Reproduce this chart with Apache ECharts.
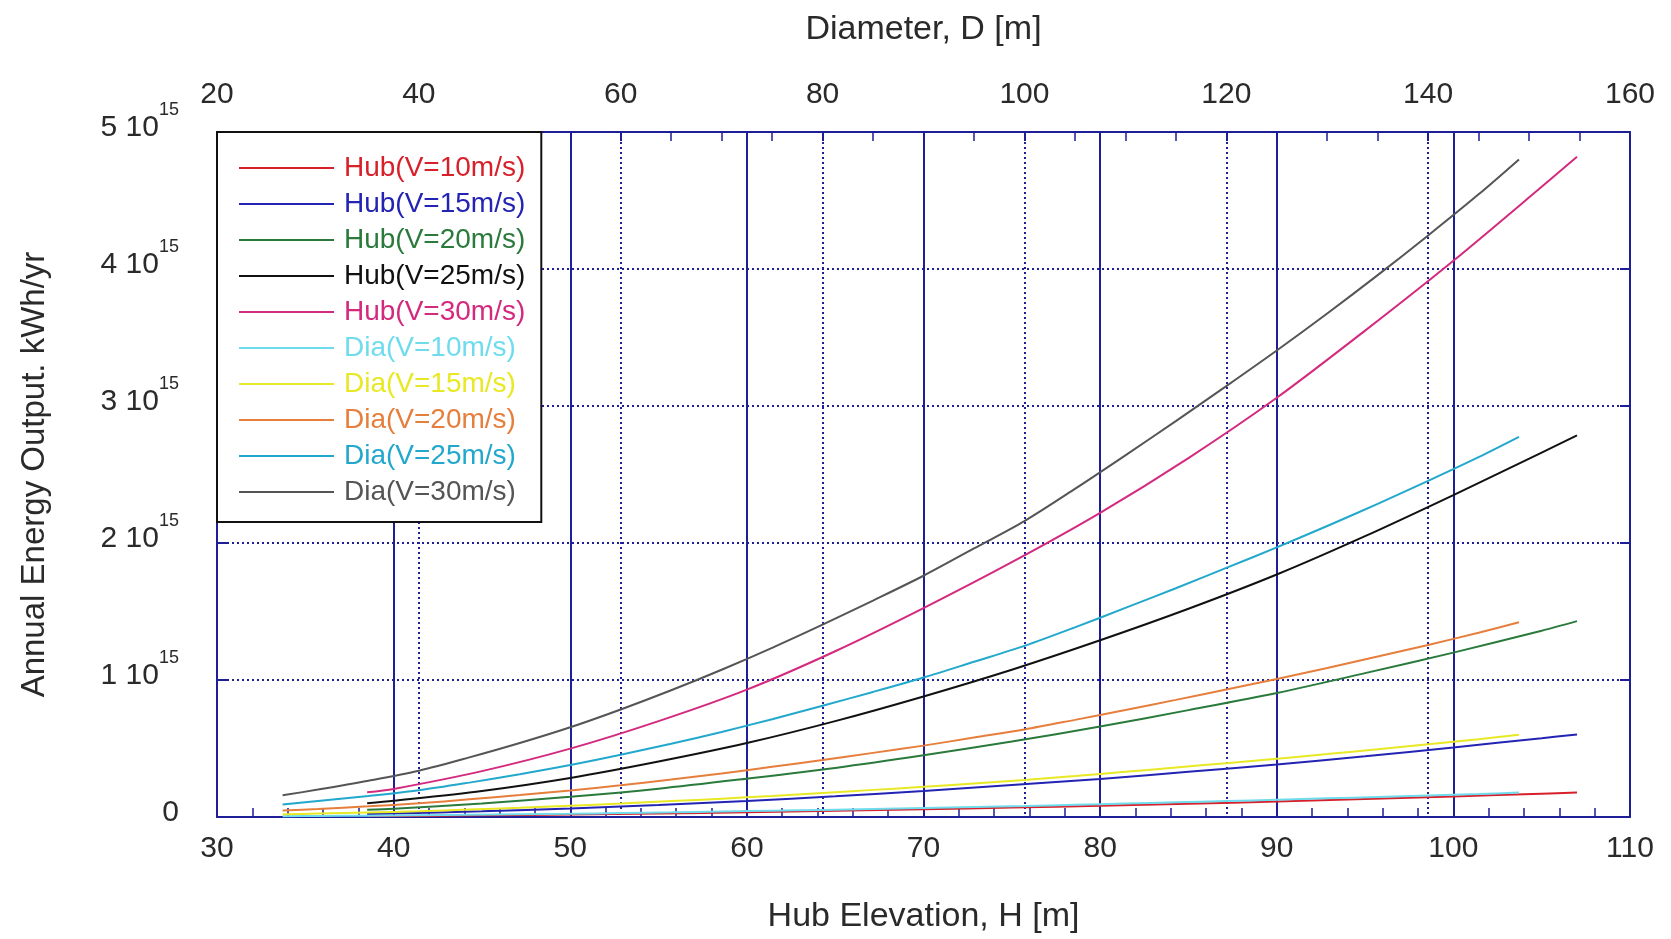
<!DOCTYPE html>
<html>
<head>
<meta charset="utf-8">
<title>Annual Energy Output</title>
<script src="https://cdn.jsdelivr.net/npm/echarts@6.0.0/dist/echarts.min.js"></script>
<style>
  html, body { margin: 0; padding: 0; background: #fff; }
  #chart { width: 1671px; height: 939px; }
</style>
</head>
<body>
<div id="chart"></div>
<script>
// hub elevation H [m] (bottom axis) and rotor diameter D [m] (top axis)
const hubH = [38.5, 40, 45, 50, 55, 60, 65, 70, 75, 80, 85, 90, 95, 100, 105, 107];
const diaD = [26.5, 30, 35, 40, 45, 50, 55, 60, 65, 70, 75, 80, 85, 90, 95, 100, 105, 110, 115, 120, 125, 130, 135, 140, 145, 149];

// annual energy output, in 10^15 kWh/yr
const hub10 = [0.007, 0.008, 0.012, 0.018, 0.026, 0.034, 0.045, 0.056, 0.069, 0.082, 0.097, 0.113, 0.131, 0.150, 0.170, 0.178];
const hub15 = [0.022, 0.026, 0.042, 0.062, 0.088, 0.117, 0.151, 0.190, 0.233, 0.278, 0.330, 0.383, 0.443, 0.508, 0.575, 0.603];
const hub20 = [0.053, 0.061, 0.099, 0.148, 0.207, 0.280, 0.358, 0.450, 0.551, 0.660, 0.780, 0.905, 1.050, 1.200, 1.360, 1.430];
const hub25 = [0.100, 0.118, 0.190, 0.285, 0.405, 0.540, 0.700, 0.880, 1.075, 1.290, 1.520, 1.770, 2.050, 2.350, 2.660, 2.785];
const hub30 = [0.180, 0.205, 0.335, 0.499, 0.700, 0.930, 1.210, 1.525, 1.860, 2.220, 2.620, 3.060, 3.550, 4.060, 4.600, 4.820];

const dia10 = [0.006, 0.007, 0.010, 0.0125, 0.016, 0.020, 0.024, 0.029, 0.034, 0.040, 0.046, 0.052, 0.058, 0.065, 0.073, 0.080, 0.089, 0.098, 0.107, 0.116, 0.126, 0.136, 0.146, 0.157, 0.168, 0.178];
const dia15 = [0.020, 0.025, 0.033, 0.042, 0.054, 0.067, 0.082, 0.098, 0.116, 0.134, 0.154, 0.176, 0.198, 0.220, 0.245, 0.270, 0.299, 0.330, 0.361, 0.393, 0.426, 0.459, 0.494, 0.531, 0.568, 0.600];
const dia20 = [0.047, 0.059, 0.078, 0.100, 0.129, 0.160, 0.194, 0.232, 0.274, 0.318, 0.366, 0.416, 0.468, 0.521, 0.580, 0.639, 0.709, 0.781, 0.855, 0.931, 1.008, 1.088, 1.171, 1.256, 1.345, 1.421];
const dia25 = [0.091, 0.116, 0.153, 0.195, 0.251, 0.312, 0.379, 0.454, 0.535, 0.621, 0.714, 0.812, 0.913, 1.018, 1.133, 1.249, 1.384, 1.526, 1.670, 1.818, 1.968, 2.124, 2.286, 2.454, 2.627, 2.775];
const dia30 = [0.158, 0.200, 0.265, 0.338, 0.435, 0.540, 0.655, 0.785, 0.925, 1.075, 1.235, 1.404, 1.580, 1.761, 1.960, 2.160, 2.395, 2.640, 2.890, 3.145, 3.405, 3.675, 3.955, 4.245, 4.545, 4.800];

const seriesList = [
  { name: 'Hub(V=10m/s)', x: hubH, y: hub10, color: '#d8202a', axis: 0 },
  { name: 'Hub(V=15m/s)', x: hubH, y: hub15, color: '#2323b4', axis: 0 },
  { name: 'Hub(V=20m/s)', x: hubH, y: hub20, color: '#2a7a3c', axis: 0 },
  { name: 'Hub(V=25m/s)', x: hubH, y: hub25, color: '#111111', axis: 0 },
  { name: 'Hub(V=30m/s)', x: hubH, y: hub30, color: '#d42a7e', axis: 0 },
  { name: 'Dia(V=10m/s)', x: diaD, y: dia10, color: '#6fdcee', axis: 1 },
  { name: 'Dia(V=15m/s)', x: diaD, y: dia15, color: '#e8e824', axis: 1 },
  { name: 'Dia(V=20m/s)', x: diaD, y: dia20, color: '#e67e3c', axis: 1 },
  { name: 'Dia(V=25m/s)', x: diaD, y: dia25, color: '#22a8cc', axis: 1 },
  { name: 'Dia(V=30m/s)', x: diaD, y: dia30, color: '#555555', axis: 1 }
];

const navy = '#1e1e96';
const font = '"Liberation Sans", Arial, sans-serif';
const labelColor = '#2a2a2a';

const chart = echarts.init(document.getElementById('chart'));

const option = {
  animation: false,
  backgroundColor: '#fff',
  grid: { left: 217, right: 41, top: 132, bottom: 122 },
  legend: {
    orient: 'vertical',
    left: 217,
    top: 132,
    padding: [22, 16, 16, 22],
    itemGap: 8,
    itemWidth: 95,
    itemHeight: 2,
    icon: 'rect',
    backgroundColor: '#fff',
    borderColor: '#111',
    borderWidth: 2,
    borderRadius: 0,
    textStyle: { fontSize: 28, fontFamily: font, lineHeight: 26, padding: [0, 0, 0, 5] },
    data: seriesList.map(s => ({ name: s.name, textStyle: { color: s.color } }))
  },
  xAxis: [
    {
      type: 'value',
      position: 'bottom',
      min: 30, max: 110, interval: 10,
      name: 'Hub Elevation, H [m]',
      nameLocation: 'middle',
      nameGap: 83,
      nameTextStyle: { fontSize: 34, fontFamily: font, color: labelColor },
      axisLine: { onZero: false, lineStyle: { color: navy, width: 2 } },
      axisTick: { inside: true, length: 9, lineStyle: { color: navy, width: 2 } },
      minorTick: { show: true, splitNumber: 5, length: 9, lineStyle: { color: navy, width: 1.5 } },
      axisLabel: { fontSize: 30, fontFamily: font, color: labelColor, margin: 17 },
      splitLine: { show: true, lineStyle: { color: navy, width: 2, type: 'solid' } }
    },
    {
      type: 'value',
      position: 'top',
      min: 20, max: 160, interval: 20,
      name: 'Diameter, D [m]',
      nameLocation: 'middle',
      nameGap: 85,
      nameTextStyle: { fontSize: 34, fontFamily: font, color: labelColor },
      axisLine: { onZero: false, lineStyle: { color: navy, width: 2 } },
      axisTick: { inside: true, length: 9, lineStyle: { color: navy, width: 2 } },
      minorTick: { show: true, splitNumber: 4, length: 9, lineStyle: { color: navy, width: 1.5 } },
      axisLabel: { fontSize: 30, fontFamily: font, color: labelColor, margin: 22 },
      splitLine: { show: true, lineStyle: { color: navy, width: 2, type: [2, 3] } }
    }
  ],
  yAxis: [
    {
      type: 'value',
      position: 'left',
      min: 0, max: 5, interval: 1,
      name: 'Annual Energy Output. kWh/yr',
      nameLocation: 'middle',
      nameGap: 166,
      nameRotate: 90,
      nameTextStyle: { fontSize: 33, fontFamily: font, color: labelColor },
      axisLine: { show: true, lineStyle: { color: navy, width: 2 } },
      axisTick: { show: true, inside: true, length: 10, lineStyle: { color: navy, width: 2 } },
      axisLabel: {
        margin: 38,
        padding: [0, 0, 9, 0],
        color: labelColor,
        fontFamily: font,
        formatter: v => v === 0 ? '{b|0}' : '{b|' + v + ' 10}{s|15}',
        rich: {
          b: { fontSize: 30, fontFamily: font, color: labelColor, lineHeight: 52 },
          s: { fontSize: 18, fontFamily: font, color: labelColor, lineHeight: 18, verticalAlign: 'top' }
        }
      },
      splitLine: { show: true, lineStyle: { color: navy, width: 2, type: [2, 3] } }
    },
    {
      type: 'value',
      position: 'right',
      min: 0, max: 5, interval: 1,
      axisLine: { show: true, lineStyle: { color: navy, width: 2 } },
      axisTick: { show: true, inside: true, length: 10, lineStyle: { color: navy, width: 2 } },
      axisLabel: { show: false },
      splitLine: { show: false }
    }
  ],
  series: seriesList.map(s => ({
    name: s.name,
    type: 'line',
    xAxisIndex: s.axis,
    yAxisIndex: 0,
    symbol: 'none',
    smooth: 0.3,
    color: s.color,
    lineStyle: { color: s.color, width: 2 },
    data: s.x.map((xv, i) => [xv, s.y[i]])
  }))
};

chart.setOption(option);
</script>
</body>
</html>
